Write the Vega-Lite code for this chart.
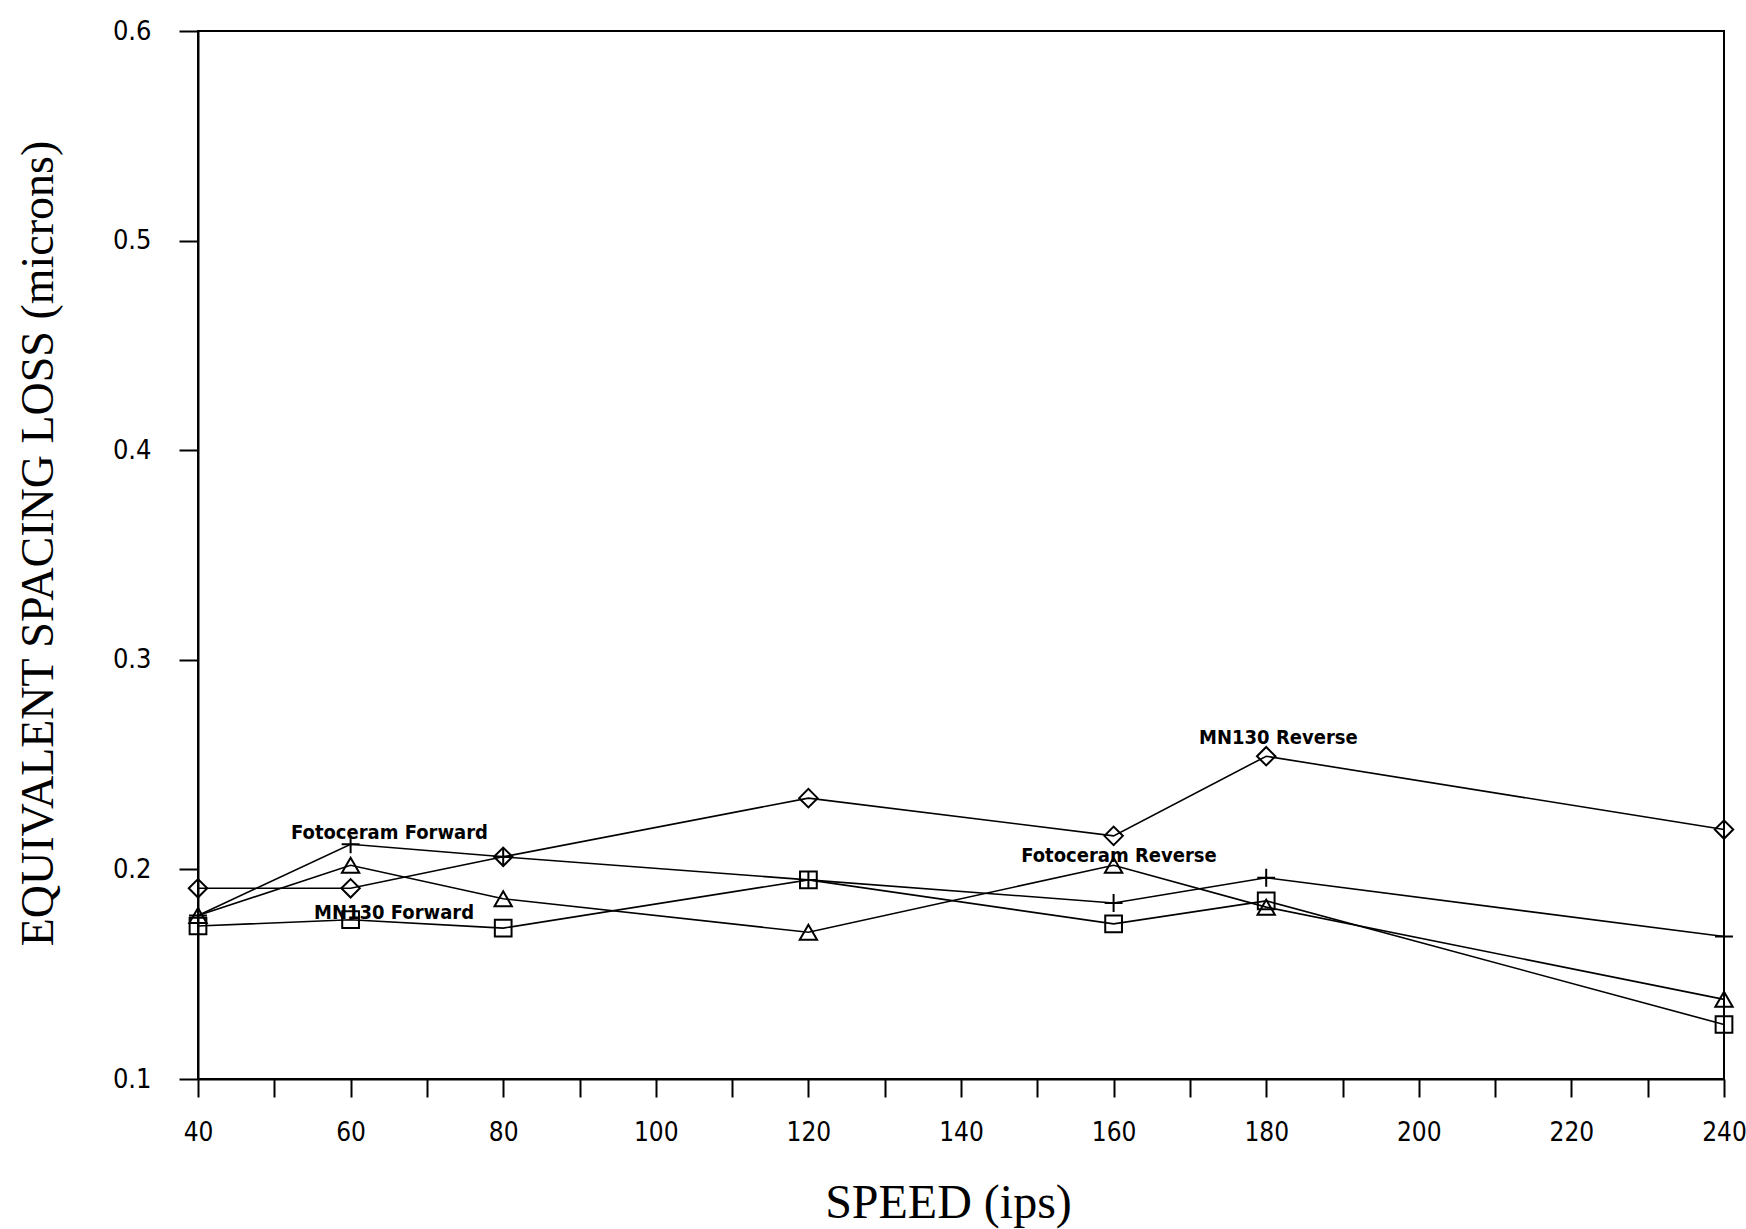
{
  "$schema": "https://vega.github.io/schema/vega-lite/v6.json",
  "width": 1526,
  "height": 1048,
  "autosize": {"type": "none"},
  "padding": {"left": 198, "top": 31, "right": 22, "bottom": 150},
  "background": "white",
  "config": {
    "view": {"stroke": "black", "strokeWidth": 2},
    "axis": {
      "grid": false,
      "domainColor": "black",
      "domainWidth": 2,
      "tickColor": "black",
      "tickWidth": 2,
      "labelColor": "black",
      "labelFont": "DejaVu Sans Condensed, sans-serif",
      "titleColor": "black",
      "titleFont": "Liberation Serif, DejaVu Serif, serif",
      "titleFontWeight": "normal",
      "labelFlush": false,
      "labelOverlap": false
    }
  },
  "datasets": {
    "points": [
      {"series": "MN130 Reverse", "speed": 40, "loss": 0.191},
      {"series": "MN130 Reverse", "speed": 60, "loss": 0.191},
      {"series": "MN130 Reverse", "speed": 80, "loss": 0.206},
      {"series": "MN130 Reverse", "speed": 120, "loss": 0.234},
      {"series": "MN130 Reverse", "speed": 160, "loss": 0.216},
      {"series": "MN130 Reverse", "speed": 180, "loss": 0.254},
      {"series": "MN130 Reverse", "speed": 240, "loss": 0.219},
      {"series": "Fotoceram Forward", "speed": 40, "loss": 0.178},
      {"series": "Fotoceram Forward", "speed": 60, "loss": 0.212},
      {"series": "Fotoceram Forward", "speed": 80, "loss": 0.206},
      {"series": "Fotoceram Forward", "speed": 120, "loss": 0.195},
      {"series": "Fotoceram Forward", "speed": 160, "loss": 0.184},
      {"series": "Fotoceram Forward", "speed": 180, "loss": 0.196},
      {"series": "Fotoceram Forward", "speed": 240, "loss": 0.168},
      {"series": "Fotoceram Reverse", "speed": 40, "loss": 0.178},
      {"series": "Fotoceram Reverse", "speed": 60, "loss": 0.202},
      {"series": "Fotoceram Reverse", "speed": 80, "loss": 0.186},
      {"series": "Fotoceram Reverse", "speed": 120, "loss": 0.170},
      {"series": "Fotoceram Reverse", "speed": 160, "loss": 0.202},
      {"series": "Fotoceram Reverse", "speed": 180, "loss": 0.182},
      {"series": "Fotoceram Reverse", "speed": 240, "loss": 0.138},
      {"series": "MN130 Forward", "speed": 40, "loss": 0.173},
      {"series": "MN130 Forward", "speed": 60, "loss": 0.176},
      {"series": "MN130 Forward", "speed": 80, "loss": 0.172},
      {"series": "MN130 Forward", "speed": 120, "loss": 0.195},
      {"series": "MN130 Forward", "speed": 160, "loss": 0.174},
      {"series": "MN130 Forward", "speed": 180, "loss": 0.185},
      {"series": "MN130 Forward", "speed": 240, "loss": 0.126}
    ],
    "labels": [
      {"label": "Fotoceram Forward", "speed": 65.1, "loss": 0.2175},
      {"label": "MN130 Forward", "speed": 65.7, "loss": 0.179},
      {"label": "MN130 Reverse", "speed": 181.6, "loss": 0.2625},
      {"label": "Fotoceram Reverse", "speed": 160.7, "loss": 0.2065}
    ]
  },
  "encoding": {
    "x": {
      "field": "speed",
      "type": "quantitative",
      "scale": {"domain": [40, 240], "nice": false, "zero": false},
      "axis": {
        "values": [40, 50, 60, 70, 80, 90, 100, 110, 120, 130, 140, 150, 160, 170, 180, 190, 200, 210, 220, 230, 240],
        "labelExpr": "datum.value % 20 == 0 ? datum.label : ''",
        "tickSize": 18,
        "labelFontSize": 26,
        "labelPadding": 22,
        "title": "SPEED (ips)",
        "titleFontSize": 48,
        "titleX": 750,
        "titleY": 124,
        "titleBaseline": "middle",
        "titleAlign": "center"
      }
    },
    "y": {
      "field": "loss",
      "type": "quantitative",
      "scale": {"domain": [0.1, 0.6], "nice": false, "zero": false},
      "axis": {
        "values": [0.1, 0.2, 0.3, 0.4, 0.5, 0.6],
        "format": ".1f",
        "tickSize": 19,
        "labelFontSize": 27,
        "labelPadding": 28,
        "title": "EQUIVALENT SPACING LOSS (microns)",
        "titleFontSize": 46,
        "titleX": -160,
        "titleY": 512,
        "titleAngle": -90,
        "titleBaseline": "middle",
        "titleAlign": "center"
      }
    }
  },
  "layer": [
    {
      "data": {"name": "points"},
      "mark": {"type": "line", "color": "black", "strokeWidth": 1.6},
      "encoding": {"detail": {"field": "series"}}
    },
    {
      "data": {"name": "points"},
      "mark": {"type": "point", "filled": false, "stroke": "black", "strokeWidth": 2, "opacity": 1},
      "encoding": {
        "shape": {
          "field": "series",
          "scale": {
            "domain": ["MN130 Reverse", "Fotoceram Forward", "Fotoceram Reverse", "MN130 Forward"],
            "range": ["diamond", "M-1,0H1M0,-1V1", "triangle-up", "square"]
          },
          "legend": null
        },
        "size": {
          "field": "series",
          "type": "nominal",
          "scale": {
            "domain": ["MN130 Reverse", "Fotoceram Forward", "Fotoceram Reverse", "MN130 Forward"],
            "range": [340, 280, 340, 420]
          },
          "legend": null
        }
      }
    },
    {
      "data": {"name": "labels"},
      "mark": {
        "type": "text",
        "font": "DejaVu Sans Condensed, sans-serif",
        "fontWeight": "bold",
        "fontSize": 20,
        "color": "black",
        "align": "center",
        "baseline": "middle"
      },
      "encoding": {"text": {"field": "label"}}
    }
  ]
}
